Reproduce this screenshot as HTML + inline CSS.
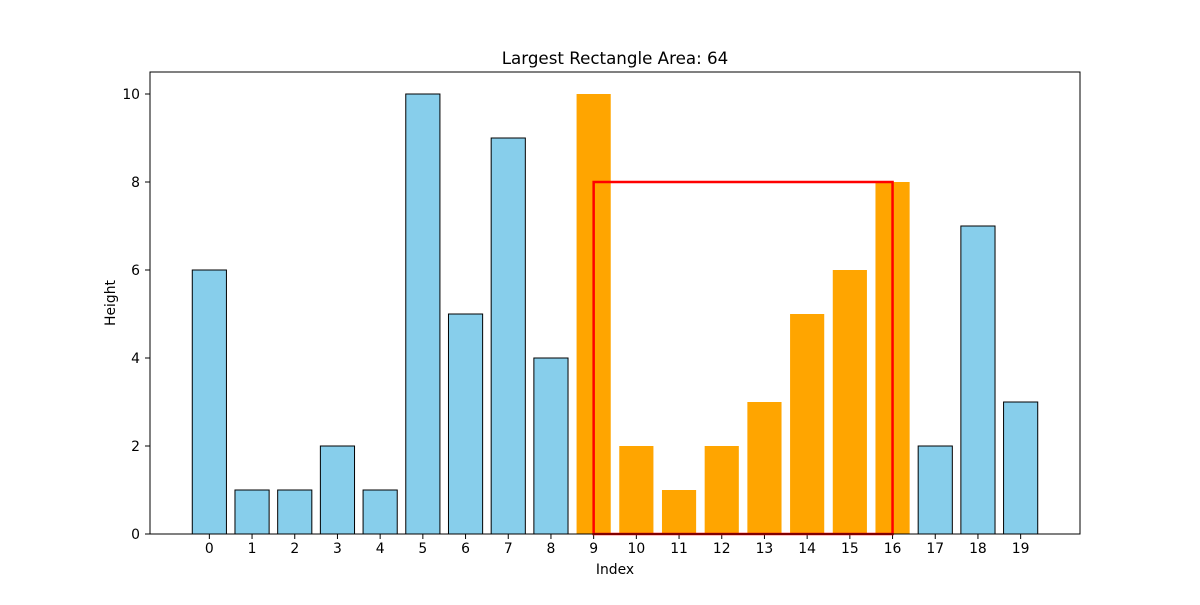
<!DOCTYPE html>
<html><head><meta charset="utf-8"><style>
body{margin:0;background:#fff}
svg text{font-family:"DejaVu Sans","Liberation Sans",sans-serif;fill:#000}
</style></head><body>
<svg id="chart" width="1200" height="600" xmlns="http://www.w3.org/2000/svg">
<rect width="1200" height="600" fill="#fff"/>
<text x="615" y="64" font-size="16.7" text-anchor="middle">Largest Rectangle Area: 64</text>
<g id="bars"></g>
<g id="xticks"></g>
<g id="yticks"></g>
<rect id="hl" fill="none" stroke="red" stroke-width="2.5"/>
<rect x="150" y="72" width="930" height="462" fill="none" stroke="#000" stroke-width="1"/>
<text x="615" y="574" font-size="13.9" text-anchor="middle">Index</text>
<text x="115" y="303" font-size="13.9" text-anchor="middle" transform="rotate(-90 115 303)">Height</text>
</svg>
<script>
const heights=[6,1,1,2,1,10,5,9,4,10,2,1,2,3,5,6,8,2,7,3];
const rectStart=9;
const rectEnd=16;
const rectHeight=8;
const yTicks=[0,2,4,6,8,10];
const NS="http://www.w3.org/2000/svg";
const x=i=>150+(i+1.39)*930/21.78;
const y=v=>534-v*44;
const bw=0.8*930/21.78;
const bars=document.getElementById('bars');
heights.forEach((h,i)=>{
  const r=document.createElementNS(NS,'rect');
  
  
  const hi=i>=rectStart&&i<=rectEnd;
  r.setAttribute('x',x(i)-bw/2);r.setAttribute('width',bw);
  r.setAttribute('y',y(h));r.setAttribute('height',y(0)-y(h));
  r.setAttribute('fill',hi?'#ffa500':'#87ceeb');
  if(!hi){r.setAttribute('stroke','#000');r.setAttribute('stroke-width','1');}
  bars.appendChild(r);
});
const xt=document.getElementById('xticks');
heights.forEach((h,i)=>{
  const l=document.createElementNS(NS,'line');
  
  
  l.setAttribute('x1',x(i));l.setAttribute('x2',x(i));l.setAttribute('y1',534);l.setAttribute('y2',539);l.setAttribute('stroke','#000');
  xt.appendChild(l);
  const t=document.createElementNS(NS,'text');
  
  
  t.setAttribute('x',x(i));t.setAttribute('y',553);t.setAttribute('font-size','13.9');t.setAttribute('text-anchor','middle');
  t.textContent=i;xt.appendChild(t);
});
const yt=document.getElementById('yticks');
yTicks.forEach(v=>{
  const l=document.createElementNS(NS,'line');
  
  
  l.setAttribute('x1',145);l.setAttribute('x2',150);l.setAttribute('y1',y(v));l.setAttribute('y2',y(v));l.setAttribute('stroke','#000');
  yt.appendChild(l);
  const t=document.createElementNS(NS,'text');
  
  
  t.setAttribute('x',140);t.setAttribute('y',y(v)+5);t.setAttribute('font-size','13.9');t.setAttribute('text-anchor','end');
  t.textContent=v;yt.appendChild(t);
});
const hl=document.getElementById('hl');
hl.setAttribute('x',x(rectStart));hl.setAttribute('width',x(rectEnd)-x(rectStart));
hl.setAttribute('y',y(rectHeight));hl.setAttribute('height',y(0)-y(rectHeight));
</script>
</body></html>
